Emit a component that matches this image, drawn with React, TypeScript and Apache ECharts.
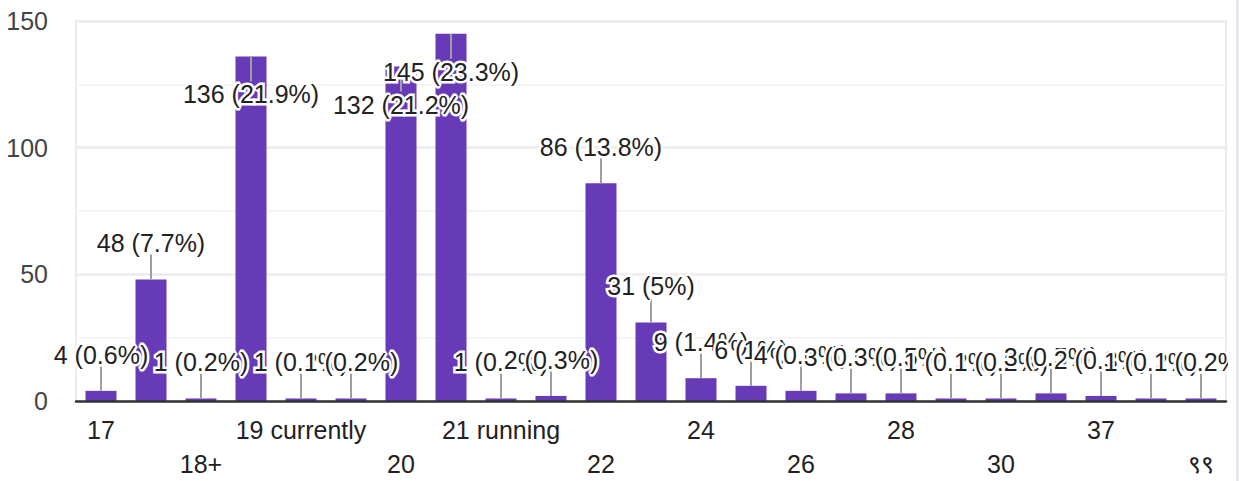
import React, { useEffect, useRef } from "react";
import * as echarts from "echarts";

const categories = [
  "17", "18", "18+", "19", "19 currently", "19+", "20", "21", "21 running", "21+",
  "22", "23", "24", "25", "26", "27", "28", "29", "30", "35", "37", "40", "९९",
];
const counts = [4, 48, 1, 136, 1, 1, 132, 145, 1, 2, 86, 31, 9, 6, 4, 3, 3, 1, 1, 3, 2, 1, 1];
const yMin = 0;
const yMax = 150;
const yStep = 50;

const FONT = '"Liberation Sans", Arial, sans-serif';

export default function App() {
  const ref = useRef<HTMLDivElement>(null);
  useEffect(() => {
    const chart = echarts.init(ref.current!, null, { renderer: "svg" });
    const total = counts.reduce((a, b) => a + b, 0);
    const pct = (v: number) => {
      const p = Math.round((v / total) * 1000) / 10;
      return Number.isInteger(p) ? p.toFixed(0) : p.toFixed(1);
    };
    chart.setOption({
      animation: false,
      grid: {
        left: 76,
        right: 13,
        top: 21,
        bottom: 80,
        show: true,
        borderColor: "#ececec",
        borderWidth: 2,
        backgroundColor: "transparent",
      },
      graphic: [
        { type: "rect", z: 100, shape: { x: 1228, y: 300, width: 8, height: 95 }, style: { fill: "#fff" } },
        { type: "rect", z: 100, shape: { x: 1236, y: 0, width: 3, height: 481 }, style: { fill: "#e6e6ea" } },
      ],
      xAxis: {
        type: "category",
        data: categories,
        z: 3,
        axisLine: { lineStyle: { color: "#333", width: 2.5 } },
        axisTick: { show: false },
        axisLabel: {
          interval: 0,
          margin: 12,
          lineHeight: 34,
          fontSize: 25,
          fontFamily: FONT,
          color: "#222",
          formatter: (v: string, i: number) => (i % 2 ? "" : i % 4 === 0 ? v : "\n" + v),
        },
      },
      yAxis: {
        type: "value",
        min: yMin,
        max: yMax,
        interval: yStep,
        axisLine: { show: false },
        axisTick: { show: false },
        axisLabel: { fontSize: 25, color: "#444", margin: 28, fontFamily: FONT },
        splitLine: { lineStyle: { color: "#ebebeb", width: 2.5 } },
        minorTick: { show: false, splitNumber: 2 },
        minorSplitLine: { show: true, lineStyle: { color: "#f5f5f5", width: 2 } },
      },
      series: [
        {
          type: "bar",
          data: counts,
          barWidth: 31,
          itemStyle: { color: "#673ab7" },
          z: 2,
        },
        {
          type: "custom",
          z: 5,
          clip: false,
          data: counts.map((v, i) => [i, v]),
          encode: { x: 0, y: 1 },
          renderItem: (params: any, api: any) => {
            const idx = api.value(0);
            const v = api.value(1);
            const pt = api.coord([idx, v]);
            const x = pt[0];
            const top = pt[1];
            const gridTop = params.coordSys.y;
            const above = top - 48 >= gridTop;
            const y2 = above ? top - 25 : top + 25;
            const ty = above ? top - 36 : top + 38;
            const text = `${v} (${pct(v)}%)`;
            return {
              type: "group",
              children: [
                {
                  type: "line",
                  shape: { x1: x, y1: top, x2: x, y2 },
                  style: { stroke: "#9e9e9e", lineWidth: 2 },
                },
                {
                  type: "text",
                  x,
                  y: ty,
                  style: {
                    text,
                    align: "center",
                    verticalAlign: "middle",
                    fontSize: 25,
                    fontFamily: FONT,
                    fill: "#fff",
                    stroke: "#fff",
                    lineWidth: 5,
                  },
                  silent: true,
                },
                {
                  type: "text",
                  x,
                  y: ty,
                  style: {
                    text,
                    align: "center",
                    verticalAlign: "middle",
                    fontSize: 25,
                    fontFamily: FONT,
                    fill: "#222",
                  },
                },
              ],
            };
          },
        },
      ],
    });
    return () => chart.dispose();
  }, []);
  return (
    <div
      ref={ref}
      style={{ position: "fixed", left: 0, top: 0, width: 1239, height: 481, background: "#fff" }}
    />
  );
}
